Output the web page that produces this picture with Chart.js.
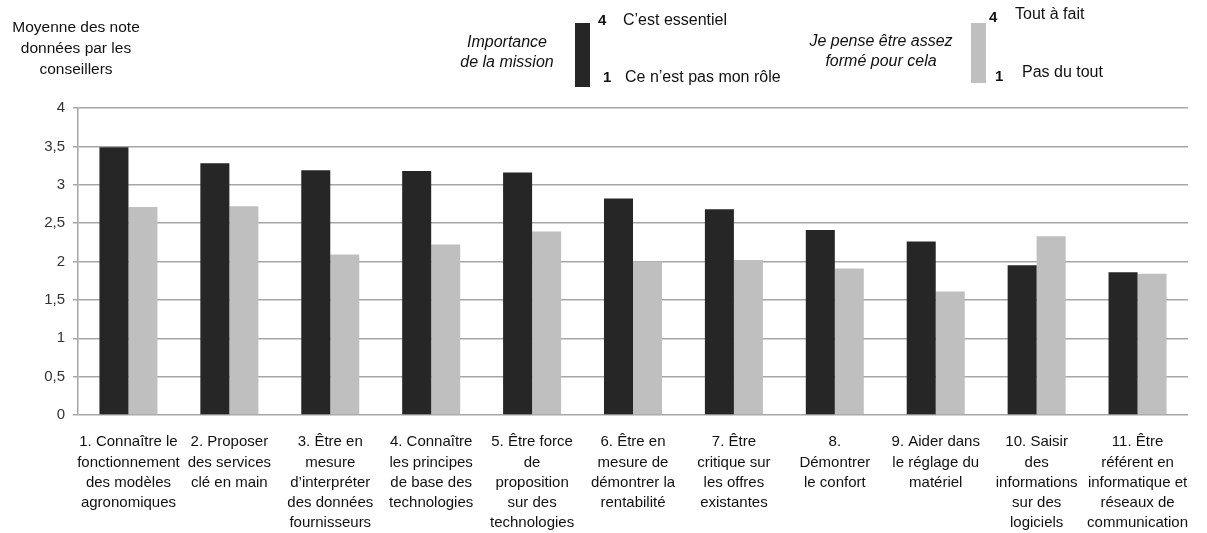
<!DOCTYPE html>
<html>
<head>
<meta charset="utf-8">
<script src="https://cdn.jsdelivr.net/npm/chart.js@4"></script>
<style>
  html, body { margin: 0; padding: 0; background: #fff; }
  #wrap { width: 1207px; height: 533px; position: relative; }
</style>
</head>
<body>
<div id="wrap"><canvas id="chart" width="1207" height="533"></canvas></div>
<script>
// Categories (multi-line labels as in the original)
const categories = [
    ['1. Connaître le', 'fonctionnement', 'des modèles', 'agronomiques'],
    ['2. Proposer', 'des services', 'clé en main'],
    ['3. Être en', 'mesure', 'd\u2019interpréter', 'des données', 'fournisseurs'],
    ['4. Connaître', 'les principes', 'de base des', 'technologies'],
    ['5. Être force', 'de', 'proposition', 'sur des', 'technologies'],
    ['6. Être en', 'mesure de', 'démontrer la', 'rentabilité'],
    ['7. Être', 'critique sur', 'les offres', 'existantes'],
    ['8.', 'Démontrer', 'le confort'],
    ['9. Aider dans', 'le réglage du', 'matériel'],
    ['10. Saisir', 'des', 'informations', 'sur des', 'logiciels'],
    ['11. Être', 'référent en', 'informatique et', 'réseaux de', 'communication']
];

// Series values
const importance = [3.49, 3.28, 3.19, 3.18, 3.16, 2.82, 2.68, 2.41, 2.26, 1.95, 1.86];
const formation = [2.71, 2.72, 2.09, 2.22, 2.39, 2.00, 2.02, 1.91, 1.61, 2.33, 1.84];

// Y axis ticks
const yTicks = [0, 0.5, 1, 1.5, 2, 2.5, 3, 3.5, 4];

const darkColor = '#262626';
const lightColor = '#bfbfbf';
const gridColor = '#a6a6a6';
const fontFamily = '"Liberation Sans", Arial, sans-serif';

// Custom header: axis title and the two bar legends
const headerPlugin = {
    id: 'header',
    afterDraw(chart) {
        const ctx = chart.ctx;
        ctx.save();
        ctx.fillStyle = '#111';
        ctx.textBaseline = 'middle';

        ctx.font = '15.5px ' + fontFamily;
        ctx.textAlign = 'center';
        ctx.fillText('Moyenne des note', 76, 28);
        ctx.fillText('données par les', 76, 49);
        ctx.fillText('conseillers', 76, 70);

        ctx.font = 'italic 16px ' + fontFamily;
        ctx.fillText('Importance', 507, 43);
        ctx.fillText('de la mission', 507, 63);
        ctx.fillText('Je pense être assez', 881, 42);
        ctx.fillText('formé pour cela', 881, 62);

        ctx.fillStyle = darkColor;
        ctx.fillRect(575, 23, 15, 64);
        ctx.fillStyle = lightColor;
        ctx.fillRect(971, 23, 15, 60);

        ctx.fillStyle = '#111';
        ctx.textAlign = 'left';
        ctx.font = 'bold 15px ' + fontFamily;
        ctx.fillText('4', 598, 21);
        ctx.fillText('1', 603, 78);
        ctx.fillText('4', 989, 18);
        ctx.fillText('1', 995, 77);

        ctx.font = '16px ' + fontFamily;
        ctx.fillText('C\u2019est essentiel', 623, 21);
        ctx.fillText('Ce n\u2019est pas mon rôle', 625, 78);
        ctx.fillText('Tout à fait', 1015, 15);
        ctx.fillText('Pas du tout', 1022, 73);
        ctx.restore();
    }
};

const ctx = document.getElementById('chart').getContext('2d');
const chart = new Chart(ctx, {
    type: 'bar',
    data: {
        labels: categories,
        datasets: [{
            label: 'Importance de la mission',
            data: importance,
            backgroundColor: darkColor,
            categoryPercentage: 0.575,
            barPercentage: 1.0
        }, {
            label: 'Je pense être assez formé pour cela',
            data: formation,
            backgroundColor: lightColor,
            categoryPercentage: 0.575,
            barPercentage: 1.0
        }]
    },
    options: {
        responsive: false,
        animation: false,
        layout: { padding: { top: 108, right: 19, left: 0, bottom: 0 } },
        plugins: {
            legend: { display: false },
            tooltip: { enabled: false }
        },
        scales: {
            x: {
                grid: { display: false, drawTicks: false },
                border: { display: false },
                ticks: {
                    color: '#111',
                    autoSkip: false,
                    maxRotation: 0,
                    padding: 17,
                    font: { family: fontFamily, size: 15, lineHeight: 1.35 }
                },
                afterFit(scale) { scale.height = 118; }
            },
            y: {
                min: 0,
                max: 4,
                afterBuildTicks(scale) { scale.ticks = yTicks.map(v => ({ value: v })); },
                grid: { color: gridColor, lineWidth: 1.5, tickLength: 5 },
                border: { display: true, color: gridColor, width: 1.5 },
                ticks: {
                    color: '#333',
                    padding: 8,
                    font: { family: fontFamily, size: 15 },
                    callback: v => String(v).replace('.', ',')
                },
                afterFit(scale) { scale.width = 78; }
            }
        }
    },
    plugins: [headerPlugin]
});
</script>
</body>
</html>
